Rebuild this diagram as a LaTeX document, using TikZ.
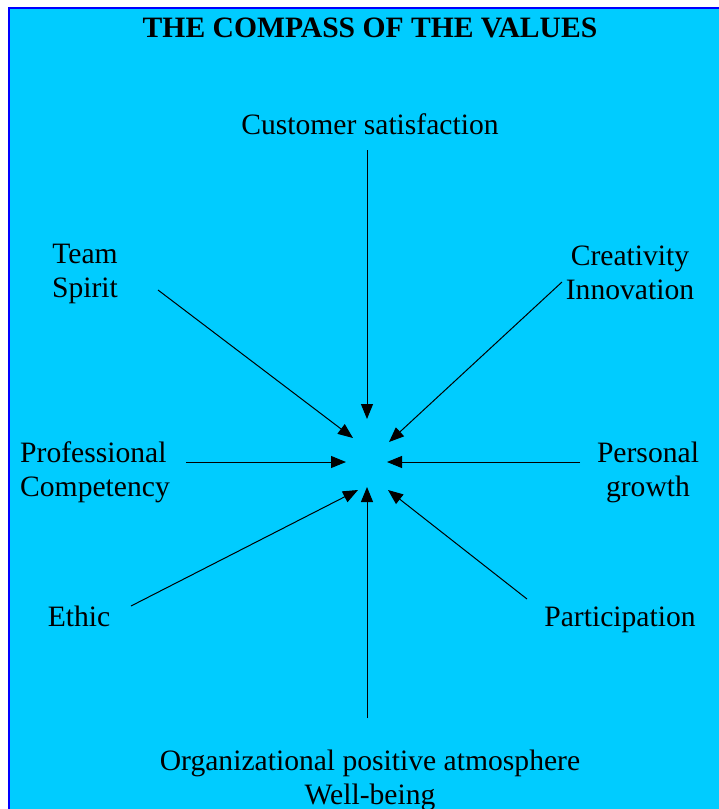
\documentclass[tikz,border=0pt]{standalone}
\usepackage{fontspec}
\setmainfont{Liberation Serif}
\usetikzlibrary{arrows.meta}
\definecolor{compass}{HTML}{00CCFF}
\definecolor{rim}{HTML}{0000FF}
\tikzset{
  value/.style={align=center, inner sep=0pt, font=\fontsize{29.6}{34}\selectfont},
  pull/.style={-{Triangle[length=15pt,width=12pt]}, line width=1pt}
}
\begin{document}
\begin{tikzpicture}[x=1pt, y=-1pt]
    \useasboundingbox (0, 0) rectangle (718, 809);
    \fill [white] (0, 0) rectangle (718, 809);
    \fill [compass] (9, 8) rectangle (730, 820);
    \draw [rim, line width=2pt] (730, 8) -- (9, 8) -- (9, 820);

    \node (title) [value, font=\fontsize{29.6}{34}\selectfont\bfseries] at (370, 28) {THE COMPASS OF THE VALUES};

    \node (cust) [value] at (370, 124) {Customer satisfaction};
    \node (team) [value] at (85, 274) {Team\\ Spirit};
    \node (crea) [value] at (630, 273) {Creativity\\ Innovation};
    \node (prof) [value, align=left, anchor=west] at (20, 472) {Professional\\ Competency};
    \node (pers) [value] at (648, 472) {Personal\\ growth};
    \node (ethic) [value] at (79, 616) {Ethic};
    \node (part) [value] at (620, 620) {Participation};
    \node (atmo) [value] at (370, 780) {Organizational positive atmosphere\\ Well-being};

    % tails and tips round the centre
    \coordinate (cust-t) at (367, 150);  \coordinate (cust-h) at (367, 419);
    \coordinate (team-t) at (158, 290);  \coordinate (team-h) at (353, 438);
    \coordinate (crea-t) at (562, 282);  \coordinate (crea-h) at (389, 442);
    \coordinate (prof-t) at (186, 462);  \coordinate (prof-h) at (346, 462);
    \coordinate (pers-t) at (580, 462);  \coordinate (pers-h) at (387, 462);
    \coordinate (ethic-t) at (131, 606); \coordinate (ethic-h) at (358, 490);
    \coordinate (part-t) at (527, 599);  \coordinate (part-h) at (388, 490);
    \coordinate (atmo-t) at (367, 718);  \coordinate (atmo-h) at (367, 487);

    \foreach \v in {cust, team, crea, prof, pers, ethic, part, atmo}
        \draw [pull] (\v-t) -- (\v-h);
\end{tikzpicture}
\end{document}
